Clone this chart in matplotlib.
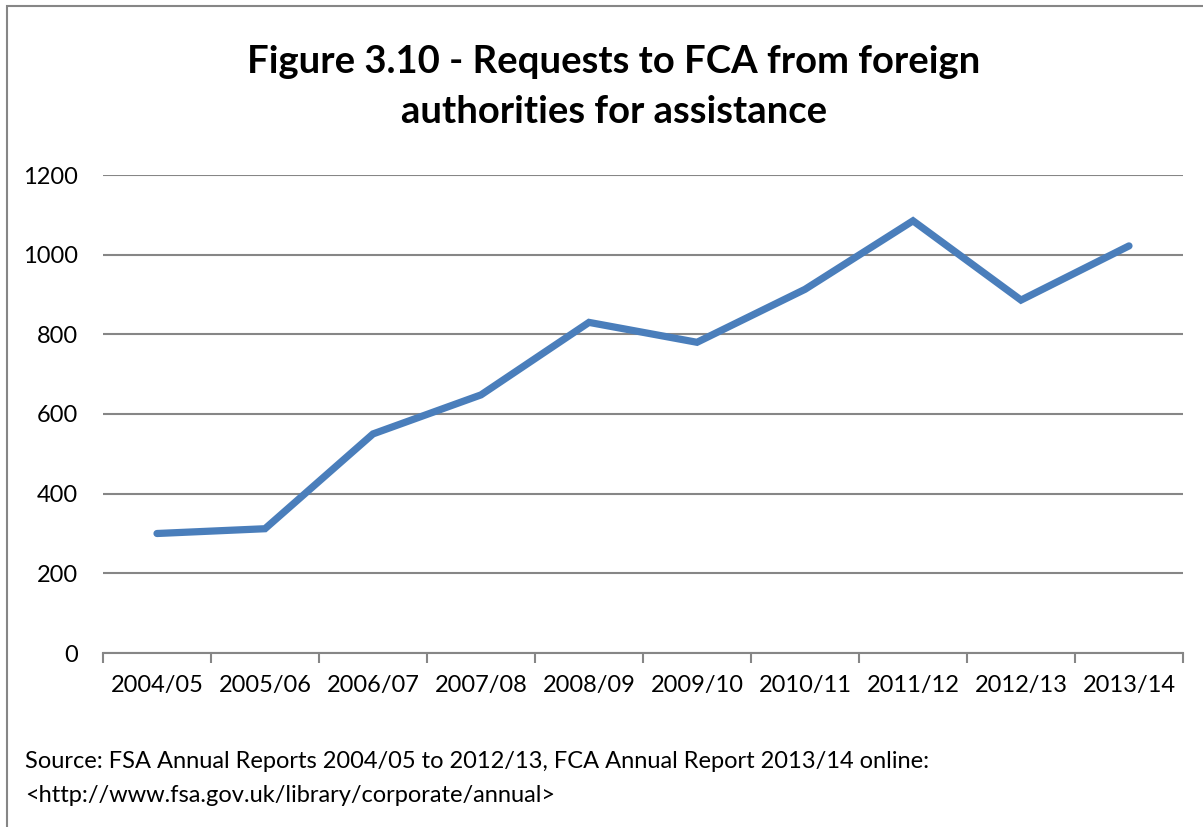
import numpy as np
import matplotlib.pyplot as plt
from matplotlib.patches import Rectangle

years = ['2004/05', '2005/06', '2006/07', '2007/08', '2008/09',
         '2009/10', '2010/11', '2011/12', '2012/13', '2013/14']
requests = [300, 312, 550, 648, 830, 780, 913, 1085, 886, 1022]
yticks = [0, 200, 400, 600, 800, 1000, 1200]

plt.rcParams['font.family'] = ['Lato', 'DejaVu Sans']

fig = plt.figure(figsize=(12.03, 8.27), dpi=100)
ax = fig.add_axes([103/1203, 1 - 653/827, 1080/1203, 478/827])

x = np.arange(len(years))
ax.plot(x, requests, color='#4A7EBB', lw=5.2, solid_capstyle='round', solid_joinstyle='miter', zorder=3)

ax.set_xlim(-0.5, len(years) - 0.5)
ax.set_ylim(0, 1200)
ax.set_yticks(yticks)
ax.set_yticklabels([str(v) for v in yticks], fontsize=17)
ax.set_xticks(x)
ax.set_xticklabels(years, fontsize=17)
ax.set_xticks(np.arange(len(years) + 1) - 0.5, minor=True)
ax.tick_params(axis='x', which='major', length=0, pad=16)
ax.tick_params(axis='x', which='minor', length=7, width=1.5, color='#868686')
ax.tick_params(axis='y', length=0, pad=18)

ax.grid(axis='y', color='#868686', lw=1.5)
ax.set_axisbelow(True)
for s in ['top', 'right', 'left']:
    ax.spines[s].set_visible(False)
ax.spines['bottom'].set_color('#868686')
ax.spines['bottom'].set_linewidth(1.5)

fig.text(614/1203, 1 - 62/827, 'Figure 3.10 - Requests to FCA from foreign', ha='center', va='center',
         fontsize=27.5, fontweight='bold')
fig.text(614/1203, 1 - 112/827, 'authorities for assistance', ha='center', va='center',
         fontsize=27.5, fontweight='bold')

fig.text(25/1203, 1 - 762/827, 'Source: FSA Annual Reports 2004/05 to 2012/13, FCA Annual Report 2013/14 online:',
         ha='left', va='center', fontsize=17)
fig.text(25/1203, 1 - 795/827, '<http://www.fsa.gov.uk/library/corporate/annual>',
         ha='left', va='center', fontsize=17)

fig.patches.append(Rectangle((7/1203, -0.1), 1.2, 1.1 - 6/827, transform=fig.transFigure,
                             fill=False, edgecolor='#868686', lw=1.5))

fig.savefig('out.png', dpi=100)
